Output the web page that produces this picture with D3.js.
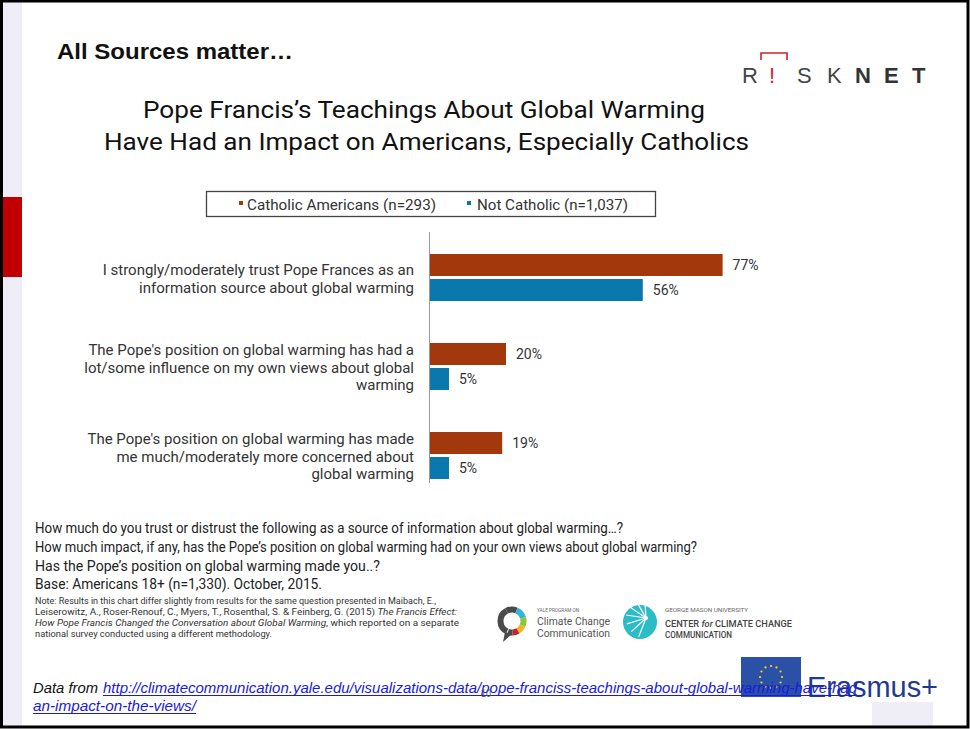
<!DOCTYPE html>
<html><head><meta charset="utf-8">
<script src="https://cdn.jsdelivr.net/npm/d3@7"></script>
<style>body{margin:0;background:#fff}svg{display:block}</style>
</head><body>
<script>
// ---- data ----
const categories = [
  "I strongly/moderately trust Pope Frances as an|information source about global warming",
  "The Pope's position on global warming has had a|lot/some influence on my own views about global|warming",
  "The Pope's position on global warming has made|me much/moderately more concerned about|global warming"
];
const seriesNames = ["Catholic Americans (n=293)", "Not Catholic (n=1,037)"];
const catholic = [77, 20, 19];
const notCatholic = [56, 5, 5];
const valueLabels = [["77%","56%"],["20%","5%"],["19%","5%"]];
const titleLines = ["Pope Francis\u2019s Teachings About Global Warming","Have Had an Impact on Americans, Especially Catholics"];
const questionLines = [
  "How much do you trust or distrust the following as a source of information about global warming\u2026?",
  "How much impact, if any, has the Pope\u2019s position on global warming had on your own views about global warming?",
  "Has the Pope\u2019s position on global warming made you..?"
];
const baseLine = "Base: Americans 18+ (n=1,330). October, 2015.";

const colors = ["#a2380c", "#0a77ad"];
const W = 971, H = 729;
const svg = d3.select("body").append("svg").attr("width", W).attr("height", H);

function fitText(sel, x, y, str, width, opts) {
  const t = sel.append("text").attr("x", x).attr("y", y).text(str);
  if (width) t.attr("textLength", width).attr("lengthAdjust", "spacingAndGlyphs");
  for (const k in opts) t.style(k, opts[k]);
  return t;
}

// ---- page frame ----
svg.append("rect").attr("x",0).attr("y",0).attr("width",W).attr("height",H).attr("fill","#fff");
svg.append("rect").attr("x",3).attr("y",2).attr("width",19).attr("height",H-4).attr("fill","#efedf5");
svg.append("rect").attr("x",3).attr("y",197).attr("width",19).attr("height",80).attr("fill","#c00000");
svg.append("rect").attr("x",872).attr("y",702).attr("width",61).attr("height",24).attr("fill","#efedf5");
svg.append("rect").attr("x",1.5).attr("y",1).attr("width",W-4.5).attr("height",H-3).attr("fill","none").attr("stroke","#000").attr("stroke-width",3);

// heading
fitText(svg, 57, 59, "All Sources matter\u2026", 236, {"font-family":"Liberation Sans, Arial, sans-serif","font-size":"22px","font-weight":"bold","fill":"#111"});

// RISKNET logo
const logo = svg.append("g").style("font-family","Liberation Sans, Arial, sans-serif").style("font-size","22px");
const letters = [["R",742,"#444",300],["!",769,"#d4202a",300],["S",797,"#444",300],["K",827,"#444",300],["N",855,"#333",700],["E",884,"#333",700],["T",912,"#333",700]];
letters.forEach(l => logo.append("text").attr("x",l[1]).attr("y",83).text(l[0]).attr("fill",l[2]).style("font-weight",l[3]));
logo.append("path").attr("d","M761,60 V53 H787 V60").attr("fill","none").attr("stroke","#d4202a").attr("stroke-width",1.6);

// chart title
const tf = {"font-family":"Roboto, sans-serif","font-size":"24px","fill":"#111"};
fitText(svg, 143, 118, titleLines[0], 562, tf);
fitText(svg, 104, 150, titleLines[1], 645, tf);

// legend
const lg = svg.append("g");
lg.append("rect").attr("x",206.5).attr("y",191.5).attr("width",449).attr("height",25).attr("fill","#fff").attr("stroke","#444").attr("stroke-width",1.3);
const legX = [[239,247,189],[467,477,151]];
seriesNames.forEach((s,i) => {
  lg.append("rect").attr("x",legX[i][0]).attr("y",201).attr("width",4).attr("height",4).attr("fill",colors[i]);
  fitText(lg, legX[i][1], 209.5, s, legX[i][2], {"font-family":"Roboto, sans-serif","font-size":"15px","fill":"#333"});
});

// ---- chart ----
const x = d3.scaleLinear().domain([0,100]).range([430, 810]);
const y = d3.scaleBand().domain(categories).range([233, 500]);
const ySub = d3.scaleBand().domain([0,1]).range([21, 68]).paddingInner(0.12);

svg.append("line").attr("x1",429.5).attr("x2",429.5).attr("y1",232).attr("y2",483).attr("stroke","#999").attr("stroke-width",1);

const groups = svg.selectAll("g.grp").data(categories).join("g").attr("class","grp")
  .attr("transform", d => `translate(0,${y(d)})`);

groups.each(function(cat, ci) {
  const g = d3.select(this);
  const vals = [catholic[ci], notCatholic[ci]];
  vals.forEach((v, si) => {
    g.append("rect").attr("x", x(0)).attr("y", ySub(si)).attr("width", x(v)-x(0)).attr("height", ySub.bandwidth())
      .attr("fill", colors[si]);
    g.append("text").attr("x", x(v)+10).attr("y", ySub(si)+ySub.bandwidth()/2).attr("dy","0.35em")
      .text(valueLabels[ci][si]).style("font-family","Roboto, sans-serif").style("font-size","14px").attr("fill","#333");
  });
  const lines = cat.split("|");
  const cy = y.bandwidth()/2 + 1;
  const lh = 17.5;
  lines.forEach((ln, li) => {
    g.append("text").attr("x", 414).attr("y", cy + (li - (lines.length-1)/2)*lh).attr("dy","0.35em")
      .attr("text-anchor","end").text(ln)
      .style("font-family","Roboto, sans-serif").style("font-size","15px").attr("fill","#333");
  });
});

// ---- footer questions ----
const qf = {"font-family":"Roboto, sans-serif","font-size":"15px","fill":"#222"};
const qW = [588, 662, 345];
questionLines.forEach((q,i) => fitText(svg, 35, 533 + i*19, q, qW[i], qf));
fitText(svg, 35, 589, baseLine, 287, {"font-family":"Roboto, sans-serif","font-size":"15px","fill":"#222"});

const nf = {"font-family":"Roboto, sans-serif","font-size":"8.5px","fill":"#333"};
fitText(svg, 35, 604, "Note: Results in this chart differ slightly from results for the same question presented in Maibach, E.,", 401, nf);
const l2 = svg.append("text").attr("x",35).attr("y",615).attr("textLength",422).attr("lengthAdjust","spacingAndGlyphs")
  .style("font-family","Roboto, sans-serif").style("font-size","8.5px").attr("fill","#333");
l2.append("tspan").text("Leiserowitz, A., Roser-Renouf, C., Myers, T.,  Rosenthal, S. & Feinberg, G. (2015) ");
l2.append("tspan").style("font-style","italic").text("The Francis Effect:");
const l3 = svg.append("text").attr("x",35).attr("y",626).attr("textLength",424).attr("lengthAdjust","spacingAndGlyphs")
  .style("font-family","Roboto, sans-serif").style("font-size","8.5px").attr("fill","#333");
l3.append("tspan").style("font-style","italic").text("How Pope Francis Changed the Conversation about Global Warming");
l3.append("tspan").text(", which reported on a separate");
fitText(svg, 35, 637, "national survey conducted using a different methodology.", 237, nf);

// ---- logos ----
const yale = svg.append("g");
const ringColors = ["#4a4a4a","#4a4a4a","#33b6d6","#8cc63f","#f0b323","#c3242e","#4a4a4a"];
const arc = d3.arc().innerRadius(8.5).outerRadius(14.5);
const angs = [[-3.1,-0.9],[-0.9,0],[0,0.9],[0.9,1.6],[1.6,2.2],[2.2,2.7],[2.7,3.1]];
angs.forEach((a,i) => yale.append("path").attr("d", arc({startAngle:a[0]+0.4, endAngle:a[1]+0.4})).attr("fill", ringColors[i]).attr("transform","translate(512,621)"));
yale.append("path").attr("d","M505,632 L503,642 L512,634 Z").attr("fill","#4a4a4a");
fitText(yale, 537, 612, "YALE PROGRAM ON", 42, {"font-family":"Roboto, sans-serif","font-size":"5px","fill":"#666"});
fitText(yale, 537, 625, "Climate Change", 73, {"font-family":"Roboto, sans-serif","font-size":"10px","fill":"#555"});
fitText(yale, 537, 636.5, "Communication", 73, {"font-family":"Roboto, sans-serif","font-size":"10px","fill":"#555"});

const gm = svg.append("g");
gm.append("circle").attr("cx",640).attr("cy",622).attr("r",17).attr("fill","#2bbcc7");
for (let i=0;i<7;i++){
  const a = -1.2 + i*0.45;
  gm.append("line").attr("x1",646).attr("y1",618).attr("x2",646+20*Math.cos(a+Math.PI)).attr("y2",618+20*Math.sin(a+Math.PI)).attr("stroke","#fff").attr("stroke-width",1.2);
}
gm.append("circle").attr("cx",646).attr("cy",618).attr("r",2).attr("fill","#fff");
fitText(gm, 665, 612, "GEORGE MASON UNIVERSITY", 83, {"font-family":"Roboto, sans-serif","font-size":"5px","fill":"#666"});
const cl = gm.append("text").attr("x",665).attr("y",627).attr("textLength",127).attr("lengthAdjust","spacingAndGlyphs")
  .style("font-family","Roboto, sans-serif").style("font-size","9px").attr("fill","#444").style("font-weight","500");
cl.append("tspan").text("CENTER ");
cl.append("tspan").style("font-style","italic").text("for");
cl.append("tspan").text(" CLIMATE CHANGE");
fitText(gm, 665, 637.5, "COMMUNICATION", 67, {"font-family":"Roboto, sans-serif","font-size":"9px","fill":"#444","font-weight":"500"});

// ---- Erasmus+ ----
const er = svg.append("g");
er.append("rect").attr("x",741).attr("y",657).attr("width",60).attr("height",40).attr("fill","#1f48a0").attr("opacity",0.95);
for (let i=0;i<12;i++){
  const a = i*Math.PI/6;
  er.append("circle").attr("cx",771+11*Math.cos(a)).attr("cy",677+11*Math.sin(a)).attr("r",1.1).attr("fill","#ffdd00");
}
fitText(er, 807, 697, "Erasmus+", 131, {"font-family":"Liberation Sans, Arial, sans-serif","font-size":"30px","fill":"#1f3a93"});

// ---- bottom source ----
const ff = {"font-family":"Liberation Sans, Arial, sans-serif","font-size":"14px","font-style":"italic","fill":"#111"};
fitText(svg, 33, 693, "Data from", 65, ff);
const lf = {"font-family":"Liberation Sans, Arial, sans-serif","font-size":"14px","font-style":"italic","fill":"#1a1adb"};
fitText(svg, 103, 693, "http://climatecommunication.yale.edu/visualizations-data/pope-franciss-teachings-about-global-warming-have-had-", 759, lf);
fitText(svg, 33, 711, "an-impact-on-the-views/", 163, lf);
svg.append("line").attr("x1",103).attr("x2",862).attr("y1",695.5).attr("y2",695.5).attr("stroke","#1a1adb").attr("stroke-width",1);
svg.append("line").attr("x1",33).attr("x2",196).attr("y1",713.5).attr("y2",713.5).attr("stroke","#1a1adb").attr("stroke-width",1);
fitText(svg, 481, 697, "10", 10, {"font-family":"Liberation Sans, Arial, sans-serif","font-size":"10px","fill":"#555"});
</script>
</body></html>
